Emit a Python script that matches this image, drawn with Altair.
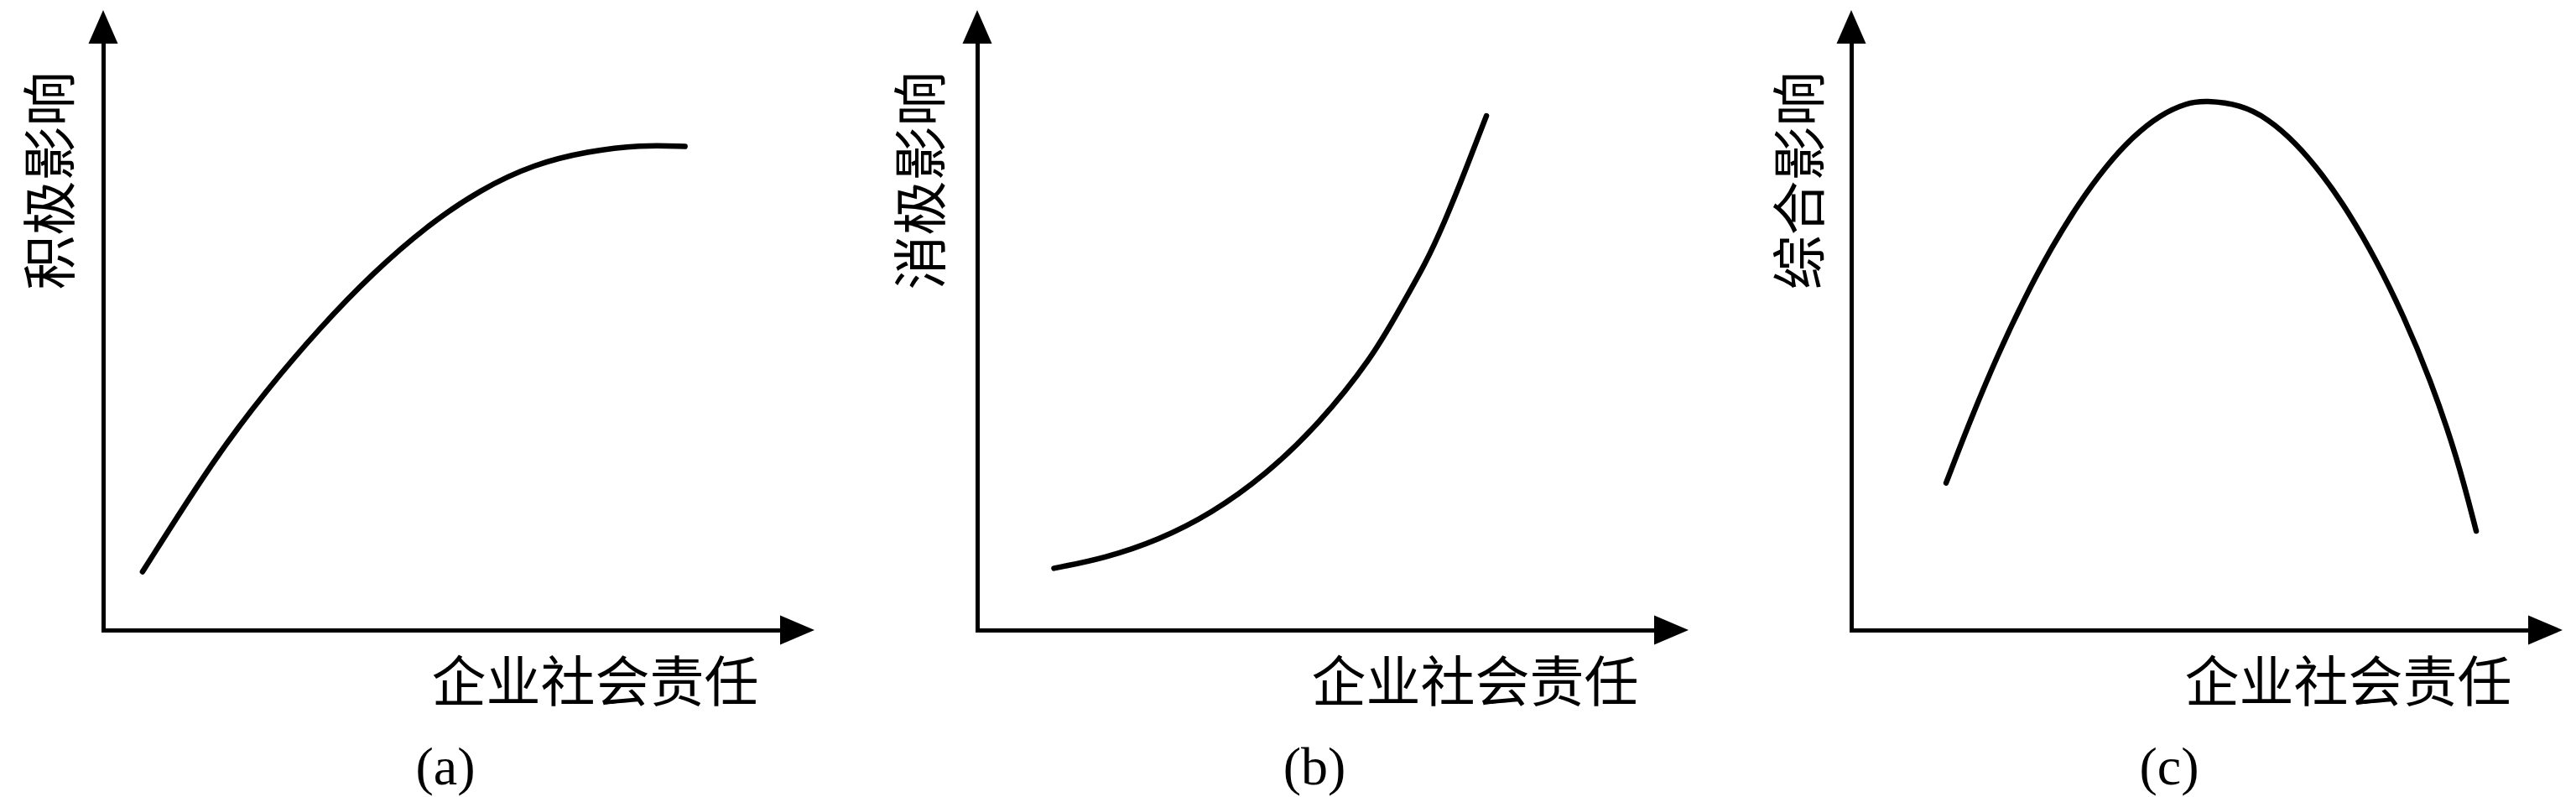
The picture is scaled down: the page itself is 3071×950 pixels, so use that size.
import altair as alt
import pandas as pd

X_MAX = 100
Y_MAX = 100
X_TITLE = "企业社会责任"
CJK = "Noto Sans CJK SC"
SERIF = "Liberation Serif"

# panel (a) 积极影响
a_x = [5.81, 16.25, 24.15, 32.06, 39.95, 47.86, 55.76, 63.67, 71.56, 79.47, 85.95]
a_y = [9.93, 29.00, 40.96, 51.63, 61.02, 68.96, 75.16, 79.46, 81.65, 82.75, 82.47]

# panel (b) 消极影响
b_x = [11.33, 18.84, 26.74, 34.63, 42.54, 50.45, 58.36, 62.33, 66.29, 69.02, 71.62, 75.22]
b_y = [10.53, 12.26, 15.31, 19.90, 26.39, 35.06, 46.49, 54.61, 62.57, 69.53, 76.90, 87.68]

# panel (c) 综合影响
c_x = [14.01, 17.61, 21.61, 25.60, 29.60, 33.59, 37.58, 41.59, 45.58, 49.57, 52.37,
       57.56, 61.55, 65.55, 69.54, 73.53, 77.53, 81.53, 85.51, 89.52, 92.32]
c_y = [25.09, 35.88, 46.88, 56.65, 65.29, 72.76, 79.07, 84.15, 87.84, 89.91, 90.30,
       89.59, 87.20, 83.22, 77.83, 71.14, 63.15, 53.75, 42.86, 29.43, 16.88]

y_titles = ["积极影响", "消极影响", "综合影响"]
tags = ["(a)", "(b)", "(c)"]

RIGHT_ARROW = "M4.1,0 L0,-1.75 L0,1.75 Z"
UP_ARROW = "M0,-4 L-1.75,0 L1.75,0 Z"

W, H = 807, 699


def panel(xs, ys, ylabel, tag, ytx, xtx, tdx):
    curve = pd.DataFrame({"x": xs, "y": ys})
    arrows = pd.DataFrame({"x": [X_MAX, 0], "y": [0, Y_MAX], "shape": [RIGHT_ARROW, UP_ARROW]})
    xsc = alt.Scale(domain=[0, X_MAX], nice=False, zero=False)
    ysc = alt.Scale(domain=[0, Y_MAX], nice=False, zero=False)
    xaxis = alt.Axis(title=X_TITLE, ticks=False, labels=False, grid=False,
                     domainColor="black", domainWidth=5, domainCap="square",
                     titleX=xtx, titleY=64, titleAlign="center", titleBaseline="middle",
                     titleFont=CJK, titleFontSize=65, titleFontWeight="normal",
                     titleColor="black")
    yaxis = alt.Axis(title=ylabel, ticks=False, labels=False, grid=False,
                     domainColor="black", domainWidth=5, domainCap="square",
                     titleAngle=270, titleX=ytx, titleY=163, titleAlign="center",
                     titleBaseline="middle", titleFont=CJK, titleFontSize=65,
                     titleFontWeight="normal", titleColor="black")
    line = alt.Chart(curve).mark_line(
        color="black", strokeWidth=6.5, strokeCap="round", interpolate="basis"
    ).encode(
        x=alt.X("x:Q", scale=xsc, axis=xaxis),
        y=alt.Y("y:Q", scale=ysc, axis=yaxis),
    )
    heads = alt.Chart(arrows).mark_point(
        filled=True, color="black", opacity=1, size=400
    ).encode(
        x=alt.X("x:Q", scale=xsc, axis=xaxis),
        y=alt.Y("y:Q", scale=ysc, axis=yaxis),
        shape=alt.Shape("shape:N", scale=None, legend=None),
    )
    return alt.layer(line, heads).properties(
        width=W, height=H,
        title=alt.TitleParams(tag, orient="bottom", anchor="middle", dx=tdx, offset=36,
                              font=SERIF, fontSize=64, fontWeight="normal", color="black"),
    )


charts = [
    panel(a_x, a_y, y_titles[0], tags[0], -61, 586, 4.5),
    panel(b_x, b_y, y_titles[1], tags[1], -65, 593, -1.5),
    panel(c_x, c_y, y_titles[2], tags[2], -59, 592, -24.5),
]

chart = alt.hconcat(*charts, spacing=235, bounds="flush").properties(
    padding={"left": 22, "top": 4, "right": 5, "bottom": 5},
    background="white",
).configure_view(stroke=None)

chart.save("out.html", embed_options={"renderer": "svg", "actions": False})
